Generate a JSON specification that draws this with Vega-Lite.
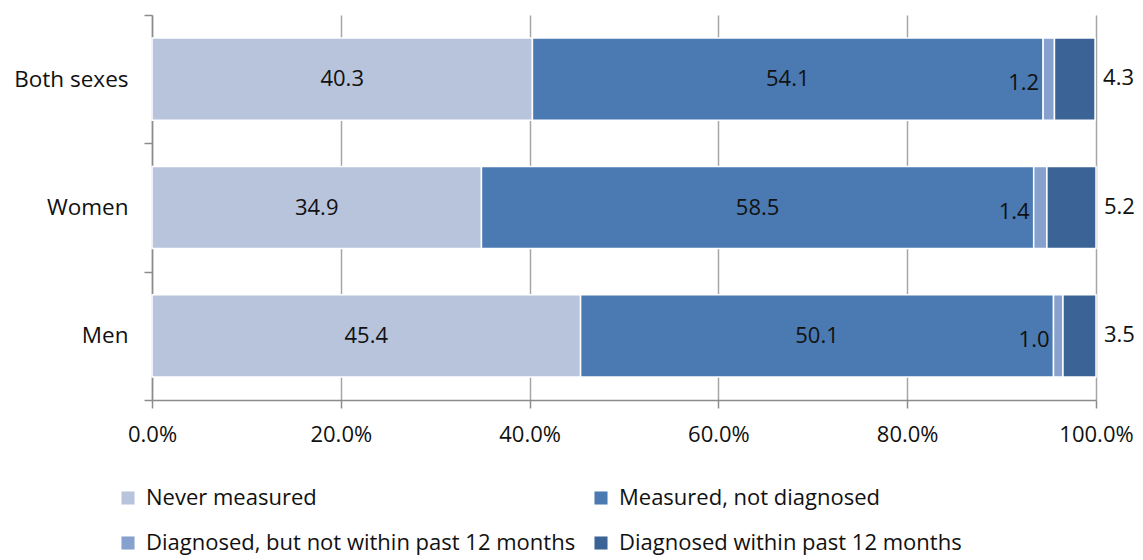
{
  "$schema": "https://vega.github.io/schema/vega-lite/v6.json",
  "width": 944,
  "height": 385,
  "autosize": {"type": "none"},
  "padding": {"left": 152, "top": 15, "right": 47, "bottom": 160},
  "background": "white",
  "config": {
    "view": {"stroke": null},
    "font": "Open Sans",
    "text": {"font": "Open Sans"}
  },
  "data": {
    "values": [
      {"group": "Both sexes", "category": "Never measured", "k": 1, "value": 40.3},
      {"group": "Both sexes", "category": "Measured, not diagnosed", "k": 2, "value": 54.1},
      {"group": "Both sexes", "category": "Diagnosed, but not within past 12 months", "k": 3, "value": 1.2},
      {"group": "Both sexes", "category": "Diagnosed within past 12 months", "k": 4, "value": 4.3},
      {"group": "Women", "category": "Never measured", "k": 1, "value": 34.9},
      {"group": "Women", "category": "Measured, not diagnosed", "k": 2, "value": 58.5},
      {"group": "Women", "category": "Diagnosed, but not within past 12 months", "k": 3, "value": 1.4},
      {"group": "Women", "category": "Diagnosed within past 12 months", "k": 4, "value": 5.2},
      {"group": "Men", "category": "Never measured", "k": 1, "value": 45.4},
      {"group": "Men", "category": "Measured, not diagnosed", "k": 2, "value": 50.1},
      {"group": "Men", "category": "Diagnosed, but not within past 12 months", "k": 3, "value": 1.0},
      {"group": "Men", "category": "Diagnosed within past 12 months", "k": 4, "value": 3.5}
    ]
  },
  "transform": [
    {"stack": "value", "groupby": ["group"], "sort": [{"field": "k", "order": "ascending"}], "as": ["x0", "x1"]},
    {"calculate": "(datum.x0 + datum.x1) / 2", "as": "mid"}
  ],
  "encoding": {
    "y": {
      "field": "group",
      "type": "nominal",
      "sort": ["Both sexes", "Women", "Men"],
      "scale": {"paddingInner": 0, "paddingOuter": 0},
      "axis": {
        "title": null,
        "domainColor": "#8c8c8c",
        "domainWidth": 1.5,
        "tickColor": "#8c8c8c",
        "tickWidth": 1.5,
        "tickSize": 8,
        "tickBand": "extent",
        "labelFontSize": 22.5,
        "labelColor": "#111111",
        "labelPadding": 16,
        "labelFont": "Open Sans"
      }
    }
  },
  "layer": [
    {
      "mark": {"type": "bar", "stroke": "white", "strokeWidth": 1.5, "height": {"band": 0.64}},
      "encoding": {
        "x": {
          "field": "x0",
          "type": "quantitative",
          "scale": {"domain": [0, 100], "nice": false},
          "axis": {
            "title": null,
            "values": [0, 20, 40, 60, 80, 100],
            "labelExpr": "format(datum.value, '.1f') + '%'",
            "grid": true,
            "gridColor": "#a6a6a6",
            "gridWidth": 1.5,
            "domainColor": "#8c8c8c",
            "domainWidth": 1.5,
            "tickColor": "#8c8c8c",
            "tickWidth": 1.5,
            "tickSize": 8,
            "labelFontSize": 22,
            "labelColor": "#111111",
            "labelPadding": 16,
            "labelFont": "Open Sans",
            "labelFlush": false
          }
        },
        "x2": {"field": "x1"},
        "color": {
          "field": "category",
          "type": "nominal",
          "scale": {
            "domain": ["Never measured", "Measured, not diagnosed", "Diagnosed, but not within past 12 months", "Diagnosed within past 12 months"],
            "range": ["#b8c3dc", "#4a7ab1", "#86a1cd", "#3b6396"]
          },
          "legend": {
            "title": null,
            "orient": "none",
            "legendX": -35,
            "legendY": 472,
            "direction": "horizontal",
            "columns": 2,
            "columnPadding": 14,
            "rowPadding": 23,
            "symbolType": "square",
            "symbolSize": 170,
            "symbolStrokeWidth": 0,
            "labelFontSize": 22,
            "labelFont": "Open Sans",
            "labelColor": "#111111",
            "labelLimit": 700,
            "labelOffset": 7
          }
        },
        "order": {"field": "k", "type": "quantitative"}
      }
    },
    {
      "transform": [{"filter": "datum.k <= 2"}],
      "mark": {"type": "text", "fontSize": 22, "color": "#111111", "baseline": "middle", "align": "center"},
      "encoding": {
        "x": {"field": "mid", "type": "quantitative"},
        "text": {"field": "value", "type": "quantitative", "format": ".1f"}
      }
    },
    {
      "transform": [{"filter": "datum.k == 3"}],
      "mark": {"type": "text", "fontSize": 22, "color": "#111111", "baseline": "middle", "align": "right", "dx": -4, "dy": 4},
      "encoding": {
        "x": {"field": "x0", "type": "quantitative"},
        "text": {"field": "value", "type": "quantitative", "format": ".1f"}
      }
    },
    {
      "transform": [{"filter": "datum.k == 4"}],
      "mark": {"type": "text", "fontSize": 22, "color": "#111111", "baseline": "middle", "align": "left", "dx": 8, "dy": -1},
      "encoding": {
        "x": {"field": "x1", "type": "quantitative"},
        "text": {"field": "value", "type": "quantitative", "format": ".1f"}
      }
    }
  ]
}
